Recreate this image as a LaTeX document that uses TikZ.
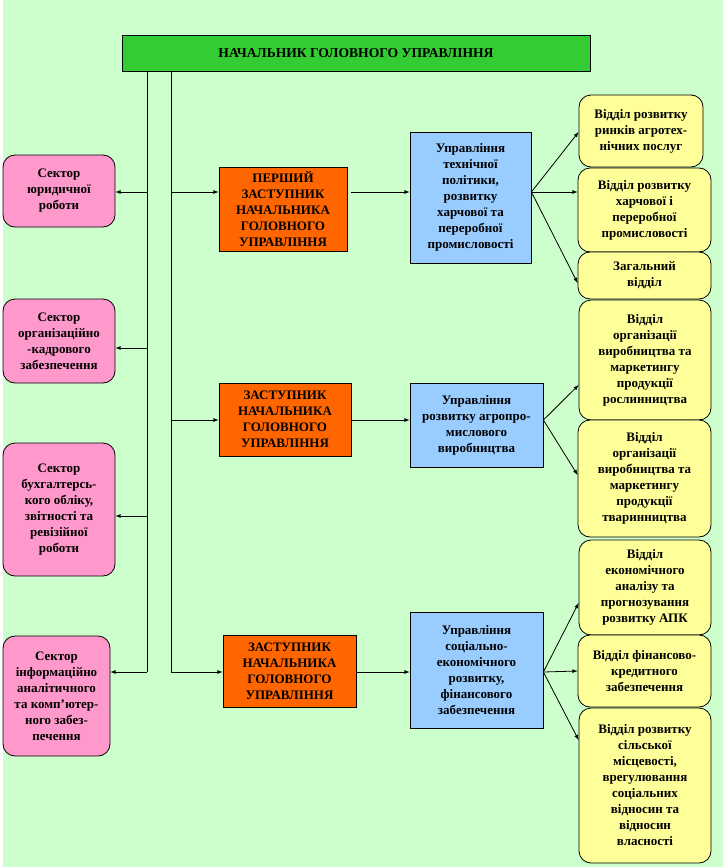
\documentclass[tikz,border=0pt]{standalone}
\usepackage{fontspec}
\setmainfont{Liberation Serif}
\usepackage{xcolor}

\definecolor{fonzel}{HTML}{CCFFCC}
\definecolor{zelen}{HTML}{33CC33}
\definecolor{pomar}{HTML}{FF6600}
\definecolor{blakyt}{HTML}{99CCFF}
\definecolor{rozh}{HTML}{FF99CC}
\definecolor{zhovt}{HTML}{FFFF99}

\begin{document}
\begin{tikzpicture}[x=1pt, y=-1pt, >=latex, line width=0.8pt,
	box/.style={draw, inner sep=0pt, align=center, font=\bfseries\fontsize{13}{16}\selectfont},
	pinkbox/.style={box, fill=rozh, rounded corners=12pt},
	yellowbox/.style={box, fill=zhovt, rounded corners=12pt},
	bluebox/.style={box, fill=blakyt},
	deputybox/.style={box, fill=pomar}]

		\useasboundingbox (0,0) rectangle (723,867);
		\fill[fonzel] (3,0) rectangle (723,867);

		\node[box, fill=zelen, minimum width=468, minimum height=36, font=\bfseries\fontsize{13.6}{16}\selectfont] (head) at (356,53) {НАЧАЛЬНИК ГОЛОВНОГО УПРАВЛІННЯ};

		% sectors on the left
		\node[pinkbox, minimum width=112, minimum height=72] (p1) at (59,191) {Сектор\\юридичної\\роботи};
		\node[pinkbox, minimum width=112, minimum height=84] (p2) at (59,341) {Сектор\\організаційно\\-кадрового\\забезпечення};
		\node[pinkbox, minimum width=112, minimum height=133] (p3) at (59,509.5) {Сектор\\бухгалтерсь-\\кого обліку,\\звітності та\\ревізійної\\роботи};
		\node[pinkbox, minimum width=107, minimum height=120] (p4) at (56.5,696) {Сектор\\інформаційно\\аналітичного\\та комп’ютер-\\ного забез-\\печення};

		% deputies
		\node[deputybox, minimum width=128, minimum height=84] (d1) at (283,209) {ПЕРШИЙ\\ЗАСТУПНИК\\НАЧАЛЬНИКА\\ГОЛОВНОГО\\УПРАВЛІННЯ};
		\node[deputybox, minimum width=132, minimum height=73] (d2) at (285,419.5) {ЗАСТУПНИК\\НАЧАЛЬНИКА\\ГОЛОВНОГО\\УПРАВЛІННЯ};
		\node[deputybox, minimum width=133, minimum height=72] (d3) at (289.5,671) {ЗАСТУПНИК\\НАЧАЛЬНИКА\\ГОЛОВНОГО\\УПРАВЛІННЯ};

		% departments
		\node[bluebox, minimum width=121, minimum height=131] (b1) at (470.5,197.5) {Управління\\технічної\\політики,\\розвитку\\харчової та\\переробної\\промисловості};
		\node[bluebox, minimum width=133, minimum height=84] (b2) at (476.5,425) {Управління\\розвитку агропро-\\мислового\\виробництва};
		\node[bluebox, minimum width=133, minimum height=116] (b3) at (476.5,670) {Управління\\соціально-\\економічного\\розвитку,\\фінансового\\забезпечення};

		% divisions on the right
		\node[yellowbox, minimum width=124, minimum height=72] (y1) at (641,131) {Відділ розвитку\\ринків агротех-\\нічних послуг};
		\node[yellowbox, minimum width=133, minimum height=84] (y2) at (644.5,210) {Відділ розвитку\\харчової і\\переробної\\промисловості};
		\node[yellowbox, minimum width=133, minimum height=47] (y3) at (644.5,275.5) {Загальний\\відділ};
		\node[yellowbox, minimum width=132, minimum height=120] (y4) at (645,360) {Відділ\\організації\\виробництва та\\маркетингу\\продукції\\рослинництва};
		\node[yellowbox, minimum width=133, minimum height=117] (y5) at (644.5,478.5) {Відділ\\організації\\виробництва та\\маркетингу\\продукції\\тваринництва};
		\node[yellowbox, minimum width=132, minimum height=95] (y6) at (645,587.5) {Відділ\\економічного\\аналізу та\\прогнозування\\розвитку АПК};
		\node[yellowbox, minimum width=133, minimum height=72] (y7) at (644.5,671) {Відділ фінансово-\\кредитного\\забезпечення};
		\node[yellowbox, minimum width=132, minimum height=155] (y8) at (645,785.5) {Відділ розвитку\\сільської\\місцевості,\\врегулювання\\соціальних\\відносин та\\відносин\\власності};

		% trunks from the head
		\coordinate (tl) at (147,672);
		\coordinate (tr) at (171,672);
		\draw (head.south -| tl) -- (tl);
		\draw (head.south -| tr) -- (tr);

		\draw[->] (tl |- 0,192) -- (p1.east |- 0,192);
		\draw[->] (tl |- 0,348) -- (p2.east |- 0,348);
		\draw[->] (tl |- 0,516) -- (p3.east |- 0,516);
		\draw[->] (tl) -- (p4.east |- tl);

		\draw[->] (tr |- 0,192) -- (d1.west |- 0,192);
		\draw[->] (tr |- 0,420) -- (d2.west |- 0,420);
		\draw[->] (tr) -- (d3.west |- tr);

		\draw[->] ([xshift=4pt]d1.east |- 0,192) -- (b1.west |- 0,192);
		\draw[->] (d2.east |- 0,420) -- (b2.west |- 0,420);
		\draw[->] (d3.east |- 0,672) -- (b3.west |- 0,672);

		% fans to the divisions
		\draw[->] (b1.east |- 0,192) -- (y1.west |- 0,132);
		\draw[->] (b1.east |- 0,192) -- (y2.west |- 0,192);
		\draw[->] (b1.east |- 0,192) -- (y3.west |- 0,283);

		\draw[->] (b2.east |- 0,420) -- (y4.west |- 0,385);
		\draw[->] (b2.east |- 0,420) -- (y5.west |- 0,475);

		\draw[->] (b3.east |- 0,672) -- (y6.west |- 0,603);
		\draw[->] (b3.east |- 0,672) -- (y7.west |- 0,671);
		\draw[->] (b3.east |- 0,672) -- (y8.west |- 0,740);
\end{tikzpicture}
\end{document}
